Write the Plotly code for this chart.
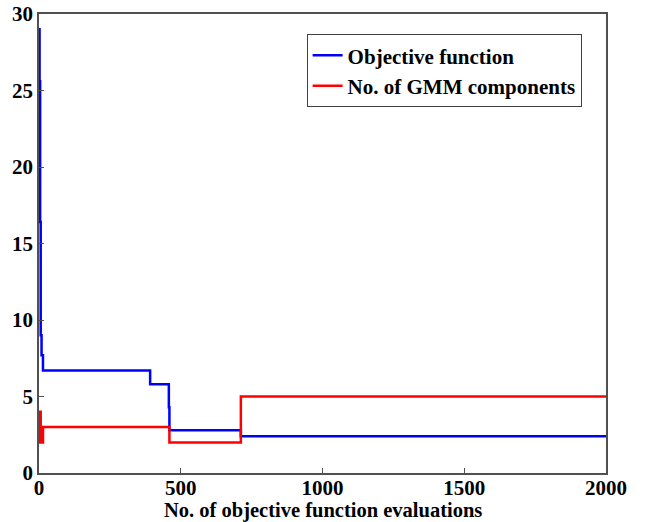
import plotly.graph_objects as go

# Objective function (step curve)
obj_x = [0, 2, 4, 6, 9, 14, 392, 458, 460, 712, 2000]
obj_y = [29.0, 25.6, 16.4, 9.0, 7.7, 6.7, 5.8, 4.3, 2.8, 2.4, 2.4]

# Number of GMM components (step curve)
gmm_x = [0, 2, 4, 6, 8, 10, 14, 460, 712, 2000]
gmm_y = [4, 2, 4, 2, 3, 2, 3, 2, 5, 5]

x_ticks = [0, 500, 1000, 1500, 2000]
y_ticks = [0, 5, 10, 15, 20, 25, 30]

font_family = "Liberation Serif, Times New Roman, serif"

fig = go.Figure()
fig.add_trace(go.Scatter(x=obj_x, y=obj_y, mode="lines", line_shape="hv",
                         name="Objective function",
                         line=dict(color="#0000ff", width=2.5)))
fig.add_trace(go.Scatter(x=gmm_x, y=gmm_y, mode="lines", line_shape="hv",
                         name="No. of GMM components",
                         line=dict(color="#ff0000", width=2.5)))

axis_common = dict(showline=True, mirror=True, linecolor="#505050", linewidth=1.5,
                   ticks="inside", ticklen=5, tickcolor="#505050",
                   showgrid=False, zeroline=False, automargin=False,
                   tickfont=dict(family=font_family, size=21, color="black", weight="bold"))

fig.update_xaxes(range=[0, 2000], tickvals=x_ticks, ticklabelstandoff=-5, **axis_common)
fig.update_yaxes(range=[0, 30], tickvals=y_ticks, **axis_common)

fig.add_annotation(text="No. of objective function evaluations",
                   xref="paper", yref="paper", x=0.5, y=-0.081,
                   xanchor="center", yanchor="middle", showarrow=False,
                   font=dict(family=font_family, size=20.5, color="black", weight="bold"))

fig.update_layout(
    width=646, height=522,
    margin=dict(l=39, r=40, t=14, b=49),
    plot_bgcolor="white", paper_bgcolor="white",
    font=dict(family=font_family, color="black"),
    legend=dict(x=0.472, y=0.956, xanchor="left", yanchor="top",
                bgcolor="white", bordercolor="#404040", borderwidth=1,
                font=dict(family=font_family, size=21, color="black", weight="bold"),
                tracegroupgap=0, itemwidth=30),
)

fig.write_html("out.html", config={"displayModeBar": False},
               post_script="document.body.style.margin='0';")
